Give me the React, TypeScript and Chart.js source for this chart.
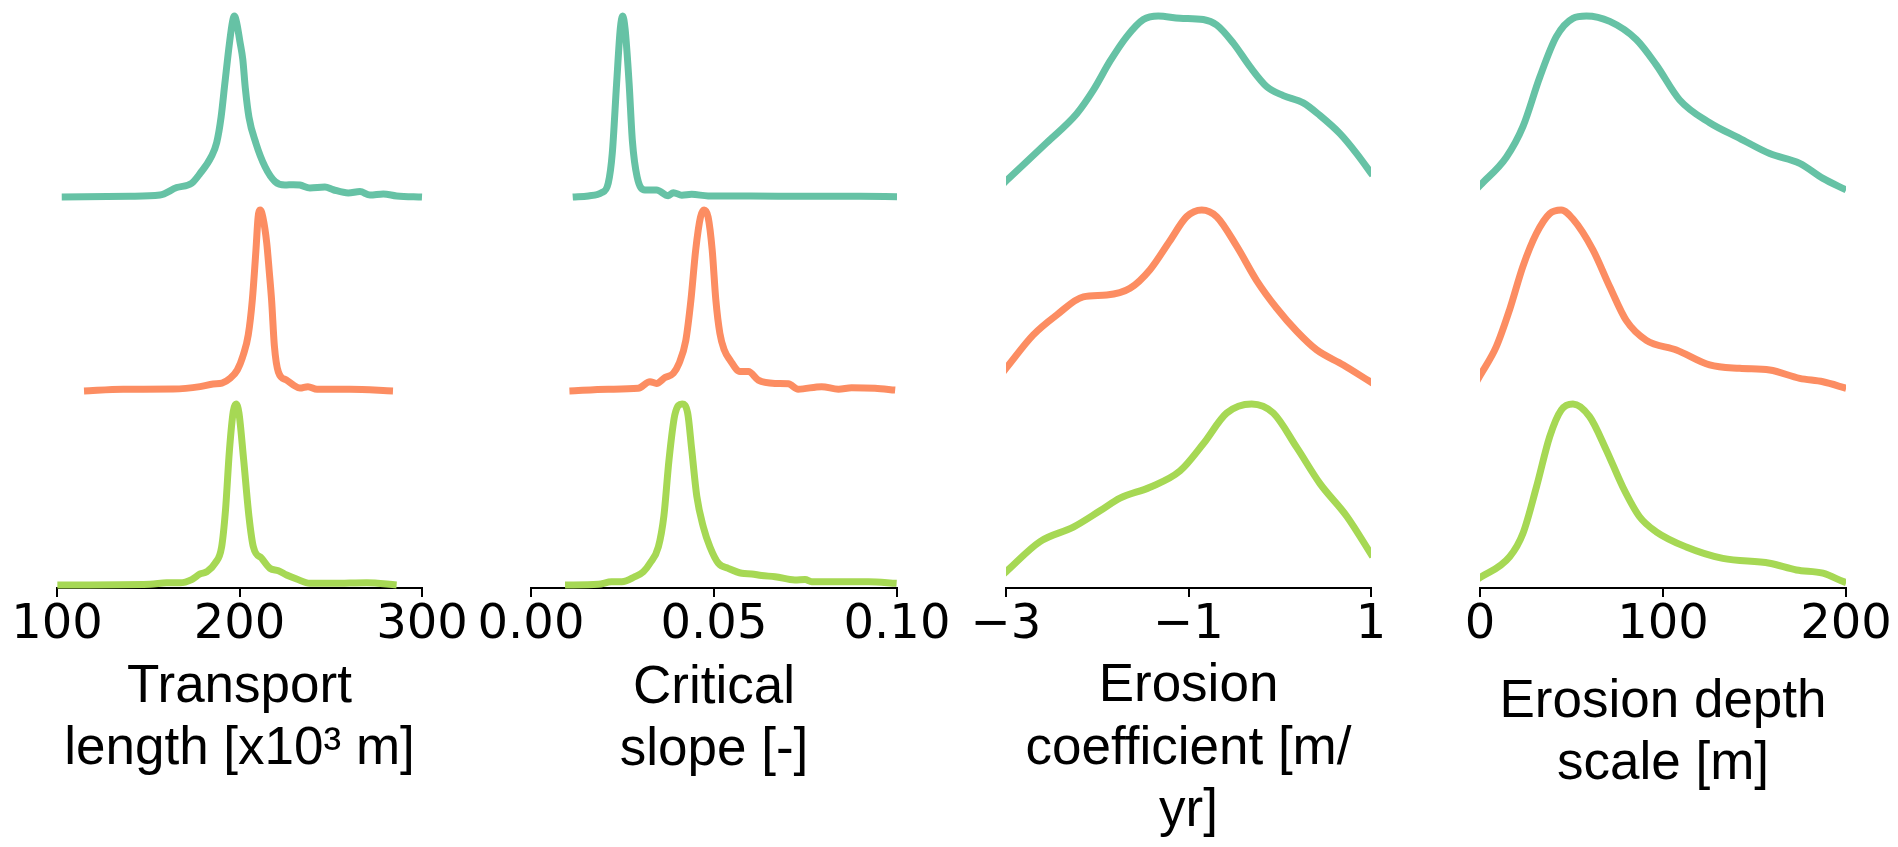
import React, { useEffect, useRef } from "react";
import { Chart, registerables } from "chart.js";

Chart.register(...registerables);

// Relative density curves (peak = 1) for the three model sets of each parameter.

// Transport length [x10^3 m]
const transportX1 = [102.6, 140, 156.4, 165.6, 173.8, 178.4, 184.4, 187.5, 189.9, 192, 194.5, 196.2, 197.2, 198.5, 200.2, 201.8, 203.2, 205.2, 208.9, 214, 219.5, 224.9, 229.5, 233.1, 238.6, 246.8, 251.4, 259.6, 266, 271.5, 278.8, 286.1, 300];
const transportY1 = [0, 0.004, 0.011, 0.052, 0.076, 0.13, 0.22, 0.3, 0.44, 0.63, 0.85, 0.97, 1.0, 0.96, 0.86, 0.76, 0.6, 0.44, 0.3, 0.167, 0.085, 0.066, 0.068, 0.066, 0.05, 0.055, 0.04, 0.022, 0.03, 0.011, 0.017, 0.006, 0];
const transportX2 = [114.8, 136.2, 163.6, 178.4, 185.5, 190.4, 194.8, 198.8, 202.1, 204.8, 207, 209, 210.2, 211.4, 212.8, 214.9, 216.3, 217.6, 219.1, 221.3, 225.8, 229.5, 233.1, 237.5, 242.5, 260.5, 284.1];
const transportY2 = [0, 0.01, 0.011, 0.024, 0.039, 0.044, 0.07, 0.116, 0.2, 0.31, 0.5, 0.776, 0.96, 1.0, 0.96, 0.82, 0.66, 0.5, 0.25, 0.105, 0.06, 0.033, 0.016, 0.024, 0.01, 0.01, 0];
const transportX3 = [100.2, 151, 160.1, 167.4, 173.8, 178.4, 182, 186.6, 190.2, 192.3, 194.5, 196.6, 198.1, 199.7, 202.2, 205.2, 207.6, 212.2, 216.7, 221.3, 225.8, 231.3, 238.6, 251.2, 269.7, 286.1];
const transportY3 = [0, 0.004, 0.012, 0.012, 0.03, 0.061, 0.073, 0.12, 0.21, 0.41, 0.746, 0.96, 1.0, 0.95, 0.7, 0.377, 0.21, 0.147, 0.092, 0.079, 0.055, 0.033, 0.009, 0.009, 0.013, 0];
const transportTicks = [100, 200, 300];
const transportTickLabels = ["100", "200", "300"];

// Critical slope [-]
const slopeX1 = [0.0114, 0.0157, 0.0193, 0.0211, 0.0222, 0.0234, 0.0244, 0.02505, 0.0257, 0.0268, 0.0277, 0.029, 0.0311, 0.0343, 0.0375, 0.0389, 0.0412, 0.0439, 0.0484, 0.06, 0.0757, 0.09, 0.1];
const slopeY1 = [0, 0.006, 0.024, 0.076, 0.24, 0.63, 0.93, 1.0, 0.93, 0.63, 0.31, 0.11, 0.039, 0.039, 0.007, 0.024, 0.01, 0.015, 0.006, 0.005, 0.004, 0.004, 0.002];
const slopeX2 = [0.0105, 0.0211, 0.0293, 0.0325, 0.0343, 0.0366, 0.0389, 0.0404, 0.0423, 0.0437, 0.045, 0.0463, 0.0473, 0.0484, 0.0495, 0.0505, 0.0516, 0.0528, 0.0544, 0.0571, 0.0594, 0.0621, 0.0667, 0.0703, 0.073, 0.0794, 0.084, 0.0876, 0.094, 0.0995];
const slopeY2 = [0, 0.01, 0.015, 0.051, 0.042, 0.074, 0.098, 0.15, 0.28, 0.503, 0.78, 0.96, 1.0, 0.96, 0.78, 0.503, 0.319, 0.227, 0.17, 0.107, 0.107, 0.06, 0.042, 0.04, 0.01, 0.024, 0.01, 0.018, 0.015, 0.005];
const slopeX3 = [0.0093, 0.0184, 0.022, 0.0248, 0.0284, 0.0307, 0.0325, 0.0348, 0.0363, 0.0377, 0.0393, 0.0413, 0.0428, 0.0439, 0.0453, 0.0471, 0.0489, 0.0512, 0.0539, 0.0576, 0.0603, 0.063, 0.0667, 0.0721, 0.0749, 0.0767, 0.0849, 0.0922, 0.0999];
const slopeY3 = [0, 0.004, 0.018, 0.018, 0.046, 0.073, 0.12, 0.21, 0.38, 0.69, 0.94, 1.0, 0.95, 0.75, 0.49, 0.32, 0.21, 0.12, 0.092, 0.065, 0.061, 0.052, 0.046, 0.028, 0.03, 0.018, 0.018, 0.018, 0.009];
const slopeTicks = [0, 0.05, 0.1];
const slopeTickLabels = ["0.00", "0.05", "0.10"];

// Erosion coefficient [m/yr] (log10)
const coefX1 = [-3.1, -3, -2.554, -2.225, -2.043, -1.86, -1.677, -1.495, -1.331, -1.093, -0.838, -0.691, -0.509, -0.326, -0.143, 0.039, 0.258, 0.441, 0.66, 0.843, 1.018, 1.1];
const coefY1 = [0.04, 0.088, 0.3, 0.46, 0.59, 0.75, 0.886, 0.98, 1.0, 0.987, 0.98, 0.95, 0.85, 0.72, 0.61, 0.56, 0.52, 0.45, 0.35, 0.24, 0.12, 0.063];
const coefX2 = [-3.1, -3, -2.701, -2.444, -2.153, -1.896, -1.641, -1.422, -1.203, -1.02, -0.855, -0.691, -0.472, -0.253, -0.033, 0.186, 0.405, 0.697, 1.018, 1.1];
const coefY2 = [0.063, 0.125, 0.31, 0.42, 0.52, 0.53, 0.567, 0.67, 0.83, 0.963, 1.0, 0.963, 0.8, 0.61, 0.457, 0.33, 0.227, 0.144, 0.043, 0.018];
const coefX3 = [-3.1, -3, -2.627, -2.262, -1.97, -1.751, -1.422, -1.093, -0.838, -0.581, -0.307, -0.071, 0.186, 0.441, 0.734, 1.018, 1.1];
const coefY3 = [0.028, 0.073, 0.24, 0.32, 0.41, 0.48, 0.54, 0.63, 0.78, 0.95, 1.0, 0.95, 0.76, 0.56, 0.38, 0.156, 0.09];
const coefTicks = [-3, -1, 1];
const coefTickLabels = ["\u22123", "\u22121", "1"];

// Erosion depth scale [m]
const depthX1 = [-5, 0.2, 14.4, 23.5, 32.6, 41.7, 50.8, 58.1, 70.9, 85.4, 96.3, 109.1, 125.5, 141.9, 158.3, 174.7, 187.4, 200.1, 205];
const depthY1 = [0.01, 0.066, 0.22, 0.39, 0.66, 0.886, 0.987, 1.0, 0.97, 0.87, 0.73, 0.536, 0.41, 0.324, 0.24, 0.186, 0.103, 0.039, 0.014];
const depthX2 = [-4, 0.2, 8.9, 16.2, 23.5, 30.8, 38.1, 44.4, 50.8, 61.7, 70.9, 79.9, 90.9, 107.3, 125.5, 141.9, 158.3, 174.7, 187.4, 200.1, 205];
const depthY2 = [0.015, 0.088, 0.245, 0.45, 0.69, 0.87, 0.98, 1.0, 0.95, 0.78, 0.576, 0.39, 0.28, 0.227, 0.144, 0.125, 0.116, 0.07, 0.051, 0.015, 0.001];
const depthX3 = [-5, 0.2, 16.2, 23.5, 30.8, 38.1, 44.4, 50.8, 59.9, 69, 78.1, 87.2, 96.3, 112.7, 132.7, 158.3, 172.9, 187.4, 200.1, 205];
const depthY3 = [0.012, 0.042, 0.156, 0.286, 0.54, 0.82, 0.967, 1.0, 0.93, 0.746, 0.54, 0.377, 0.294, 0.21, 0.147, 0.12, 0.083, 0.065, 0.013, 0];
const depthTicks = [0, 100, 200];
const depthTickLabels = ["0", "100", "200"];

const SERIES_COLORS = ["#66c2a5", "#fc8d62", "#a6d854"];

// Layout (pixels)
const PAGE_H = 847;
const SIDE_PAD = 70;
const TOP_PAD = 6;
const AXIS_BOX_H = 259;
const ROW_MIN = -0.0166;
const ROW_MAX = 1.055;

type Panel = {
  title: string[];
  min: number;
  max: number;
  ticks: number[];
  tickLabels: string[];
  xs: number[][];
  ys: number[][];
  plotLeft: number;
  plotWidth: number;
  titlePad: number;
  cutEdges: boolean;
};

const PANELS: Panel[] = [
  {
    title: ["Transport", "length [x10\u00b3 m]"],
    min: 100,
    max: 300,
    ticks: transportTicks,
    tickLabels: transportTickLabels,
    xs: [transportX1, transportX2, transportX3],
    ys: [transportY1, transportY2, transportY3],
    plotLeft: 57,
    plotWidth: 365,
    titlePad: 66,
    cutEdges: false,
  },
  {
    title: ["Critical", "slope [-]"],
    min: 0,
    max: 0.1,
    ticks: slopeTicks,
    tickLabels: slopeTickLabels,
    xs: [slopeX1, slopeX2, slopeX3],
    ys: [slopeY1, slopeY2, slopeY3],
    plotLeft: 531,
    plotWidth: 366,
    titlePad: 65,
    cutEdges: false,
  },
  {
    title: ["Erosion", "coefficient [m/", "yr]"],
    min: -3,
    max: 1,
    ticks: coefTicks,
    tickLabels: coefTickLabels,
    xs: [coefX1, coefX2, coefX3],
    ys: [coefY1, coefY2, coefY3],
    plotLeft: 1006,
    plotWidth: 365,
    titlePad: 4,
    cutEdges: true,
  },
  {
    title: ["Erosion depth", "scale [m]"],
    min: 0,
    max: 200,
    ticks: depthTicks,
    tickLabels: depthTickLabels,
    xs: [depthX1, depthX2, depthX3],
    ys: [depthY1, depthY2, depthY3],
    plotLeft: 1480,
    plotWidth: 366,
    titlePad: 51,
    cutEdges: true,
  },
];

function rowScale(weight: number) {
  return {
    type: "linear",
    position: "left",
    stack: "rows",
    stackWeight: 1,
    weight,
    display: false,
    min: ROW_MIN,
    max: ROW_MAX,
  };
}

function RidgePanel({ panel }: { panel: Panel }) {
  const canvasRef = useRef<HTMLCanvasElement | null>(null);
  const canvasW = panel.plotWidth + 2 * SIDE_PAD;

  useEffect(() => {
    const canvas = canvasRef.current;
    if (!canvas) return;
    const chart = new Chart(canvas, {
      type: "line",
      data: {
        datasets: panel.xs.map((xs, i) => ({
          data: xs.map((x, j) => ({ x, y: panel.ys[i][j] })),
          xAxisID: "x",
          yAxisID: "row" + i,
          borderColor: SERIES_COLORS[i],
          backgroundColor: SERIES_COLORS[i],
          borderWidth: 7,
          borderJoinStyle: "round",
          borderCapStyle: "butt",
          pointRadius: 0,
          pointHoverRadius: 0,
          fill: false,
          cubicInterpolationMode: "monotone",
          clip: panel.cutEdges
            ? { left: 0, right: 0, top: 12, bottom: 1 }
            : { left: 5, right: 5, top: 12, bottom: 1 },
        })),
      },
      options: {
        responsive: false,
        maintainAspectRatio: false,
        animation: false,
        events: [],
        layout: { padding: { left: SIDE_PAD, right: SIDE_PAD, top: TOP_PAD, bottom: 0 } },
        plugins: {
          legend: { display: false },
          tooltip: { enabled: false },
        },
        scales: {
          x: {
            type: "linear",
            position: "bottom",
            min: panel.min,
            max: panel.max,
            afterBuildTicks: (scale: any) => {
              scale.ticks = panel.ticks.map((v) => ({ value: v }));
            },
            afterFit: (scale: any) => {
              scale.height = AXIS_BOX_H;
            },
            grid: {
              display: true,
              drawOnChartArea: false,
              drawTicks: true,
              tickLength: 9,
              color: "#000000",
              lineWidth: 2,
            },
            border: { display: true, color: "#000000", width: 2 },
            ticks: {
              autoSkip: false,
              maxRotation: 0,
              minRotation: 0,
              padding: 0,
              color: "#000000",
              font: { family: "DejaVu Sans", size: 48 },
              callback: (_v: any, i: number) => panel.tickLabels[i],
            },
            title: {
              display: true,
              text: panel.title,
              color: "#000000",
              font: { family: "Liberation Sans", size: 53, lineHeight: 1.18 },
              padding: { top: 0, bottom: panel.titlePad },
            },
          },
          row0: rowScale(3),
          row1: rowScale(2),
          row2: rowScale(1),
        },
      } as any,
    });
    return () => chart.destroy();
  }, [panel]);

  return (
    <canvas
      ref={canvasRef}
      width={canvasW}
      height={PAGE_H}
      style={{
        position: "absolute",
        left: panel.plotLeft - SIDE_PAD,
        top: 0,
        width: canvasW,
        height: PAGE_H,
      }}
    />
  );
}

export default function App() {
  return (
    <div
      style={{
        position: "fixed",
        left: 0,
        top: 0,
        width: "100vw",
        height: "100vh",
        background: "#ffffff",
        overflow: "hidden",
      }}
    >
      {PANELS.map((p, i) => (
        <RidgePanel key={i} panel={p} />
      ))}
    </div>
  );
}
